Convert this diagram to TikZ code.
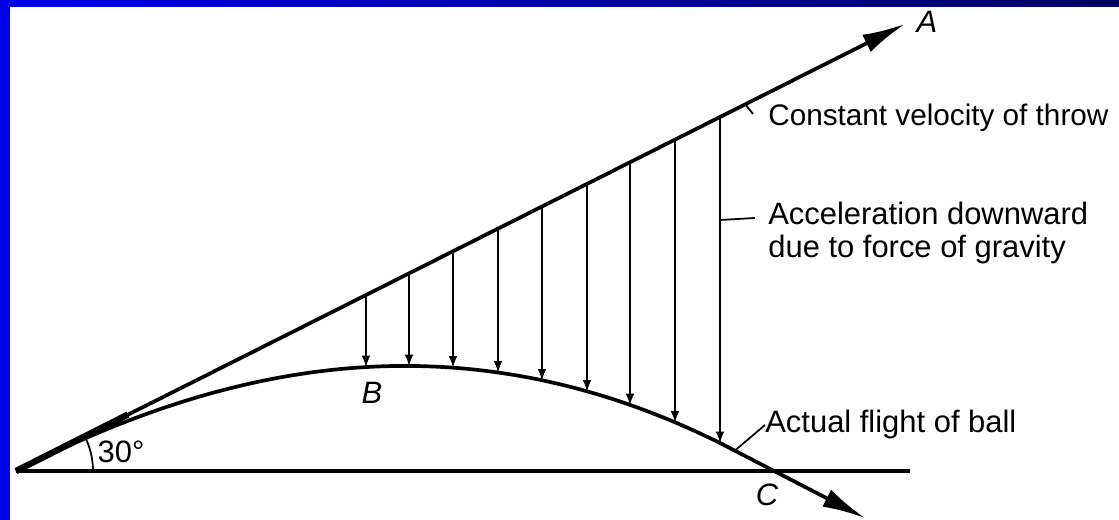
\documentclass[tikz,border=0pt]{standalone}
\usepackage{fontspec}
\setmainfont{Liberation Sans}
\usetikzlibrary{arrows.meta}
\definecolor{frameblue}{RGB}{0,0,232}
\definecolor{framenavy}{RGB}{0,0,96}
\begin{document}
\begin{tikzpicture}[
    thickline/.style={draw=black, line width=2.1pt, solid},
    droparrow/.style={draw=black, -latex, line width=1.2pt, solid},
    leader/.style={draw=black, line width=1pt, solid},
    bigtip/.style={-{Latex[length=0.86cm,width=0.38cm]}},
    lbl/.style={black, inner sep=0pt, font=\fontsize{17.6}{18.6}\selectfont}
  ]
            \useasboundingbox (0.00,0.00) rectangle (22.38,10.40);
            \clip (0.00,0.00) rectangle (22.38,10.40);
            \fill[white] (0.00,0.00) rectangle (22.38,10.40);
            \shade[left color=frameblue, right color=framenavy] (0.00,10.26) rectangle (22.38,10.40);
            \fill[frameblue] (0.00,0.00) rectangle (0.20,10.40);
            \coordinate (O) at (0.32,0.98);
            \coordinate (A) at (18.10,9.92);
            \coordinate (G) at (18.20,0.98);
            \coordinate (Cend) at (17.30,0.04);
            \coordinate (velTick) at (15.06,8.12);
            \draw[thickline] (O) -- (G);
            \draw[thickline, bigtip] (O) -- (A);
            \draw[thickline, bigtip] plot[domain=0.001:14.08, samples=90] ({0.32+\x},{0.98+0.5028*\x-0.02155*pow(\x,2.16)}) -- (Cend);
            \draw[draw=black, line width=3.6pt] (O) -- (2.56,2.11);
            \draw[leader] (1.86,0.98) arc (0:26.6:1.54);
            \draw[droparrow] (7.32,4.50) -- (7.32,3.06);
            \draw[droparrow] (8.18,4.93) -- (8.18,3.08);
            \draw[droparrow] (9.06,5.37) -- (9.06,3.05);
            \draw[droparrow] (9.96,5.83) -- (9.96,2.95);
            \draw[droparrow] (10.84,6.27) -- (10.84,2.79);
            \draw[droparrow] (11.74,6.72) -- (11.74,2.57);
            \draw[droparrow] (12.60,7.15) -- (12.60,2.30);
            \draw[droparrow] (13.50,7.61) -- (13.50,1.95);
            \draw[droparrow] (14.40,8.06) -- (14.40,1.54);
            \node[lbl] (lblA) at (18.54,9.96) {\textit{A}};
            \node[lbl] (lblB) at (7.44,2.54) {\textit{B}};
            \node[lbl] (lblC) at (15.34,0.50) {\textit{C}};
            \node[lbl] (lblAngle) at (2.42,1.36) {30°};
            \node[lbl, anchor=west, font=\fontsize{16.9}{18}\selectfont] (lblVel) at (15.36,8.04) {Constant velocity of throw};
            \node[lbl, anchor=west, align=left] (lblAcc) at (15.36,5.74) {Acceleration downward\\due to force of gravity};
            \node[lbl, anchor=west] (lblFlight) at (15.30,1.90) {Actual flight of ball};
            \draw[leader] (14.90,8.32) -- (velTick);
            \draw[leader] (14.40,6.00) -- (15.10,6.04);
            \draw[leader] (14.70,1.39) -- (lblFlight.west);
        \end{tikzpicture}
\end{document}
